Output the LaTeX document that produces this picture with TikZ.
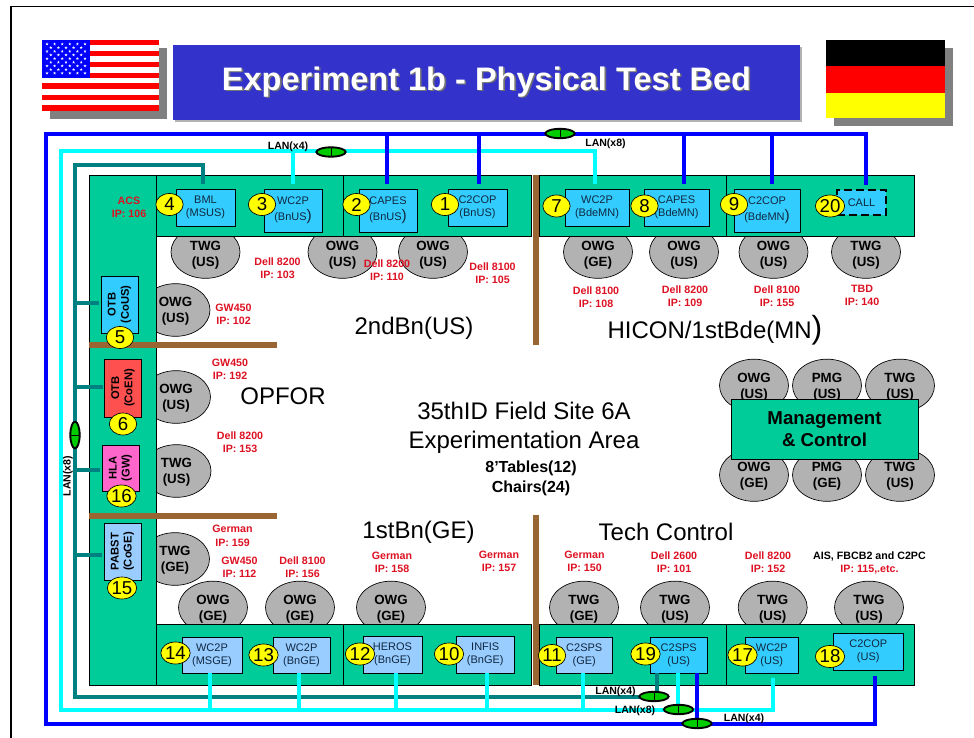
\documentclass[tikz,border=0pt]{standalone}
\usepackage{fontspec}
\setmainfont{Liberation Sans}
\usetikzlibrary{shapes.geometric,calc}
\definecolor{bandgreen}{HTML}{00CC99}
\definecolor{titleblue}{HTML}{3333CC}
\definecolor{boxblue}{HTML}{33CCFF}
\definecolor{boxpale}{HTML}{99CCFF}
\definecolor{boxred}{HTML}{FF5050}
\definecolor{boxpink}{HTML}{FF66CC}
\definecolor{woodbrown}{HTML}{996633}
\definecolor{labred}{HTML}{DD1122}
\definecolor{ovalgrey}{HTML}{B2B2B2}
\definecolor{boxink}{HTML}{102840}
\definecolor{lanteal}{HTML}{008080}
\definecolor{lancyan}{HTML}{00FFFF}
\definecolor{lanblue}{HTML}{0000FF}
\definecolor{hubgreen}{HTML}{00CC00}
\definecolor{flagred}{HTML}{FF0000}
\definecolor{flagyellow}{HTML}{FFFF00}
\newcommand\pbox[7]{\node[#2,minimum width={(#5-#3)*.75pt},minimum height={(#6-#4)*.75pt}] (#1) at ({(#3+#5)/2},{(#4+#6)/2}) {#7};}
\newcommand\rbox[7]{\node[#2,rotate=90,minimum height={(#5-#3)*.75pt},minimum width={(#6-#4)*.75pt}] (#1) at ({(#3+#5)/2},{(#4+#6)/2}) {#7};}
\newcommand\bigpar{{\fontsize{11.5}{11.5}\selectfont )}}
\newcommand\starat[2]{\fill[white,shift={(#1,#2)}] (0,-1.6) -- (.94,1.29) -- (-1.52,-.49) -- (1.52,-.49) -- (-.94,1.29) -- cycle;}
\newcommand\ovtx[3][1pt]{\raisebox{-#1}[7.2pt][2pt]{#2}\\\raisebox{-#1}[7.2pt][2pt]{#3}}
\tikzset{
  band/.style={rectangle,draw=black,line width=.5pt,fill=bandgreen,inner sep=0pt,outer sep=0pt},
  pc/.style={rectangle,draw=black,line width=.6pt,inner sep=0pt,outer sep=0pt,align=center,text=boxink,font=\fontsize{8.25}{9.75}\selectfont},
  pcblue/.style={pc,fill=boxblue},
  pcpale/.style={pc,fill=boxpale},
  pcside/.style={pc,text=black,font=\fontsize{8.4}{9.75}\selectfont\bfseries},
  oval/.style={ellipse,draw=black,line width=.5pt,fill=ovalgrey,inner sep=0pt,outer sep=0pt,minimum width=51.75pt,minimum height=39.5pt,align=center,font=\fontsize{10}{12}\selectfont\bfseries},
  num/.style={ellipse,draw=black,line width=.5pt,fill=flagyellow,inner sep=0pt,outer sep=0pt,minimum width=20.5pt,minimum height=16.5pt,font=\fontsize{14}{14}\selectfont},
  redlab/.style={align=center,inner sep=0pt,text=labred,font=\fontsize{8}{9.75}\selectfont\bfseries},
  room/.style={align=center,inner sep=0pt,font=\fontsize{18}{21.75}\selectfont},
  lantag/.style={inner sep=0pt,font=\fontsize{7.9}{8}\selectfont\bfseries},
  lan/.style={ellipse,draw=black,line width=1.4pt,fill=hubgreen,inner sep=0pt,outer sep=0pt,minimum width=22pt,minimum height=7pt},
  lanv/.style={lan,minimum width=7pt,minimum height=20pt},
  bluecable/.style={draw=lanblue,line width=2.6pt},
  cyancable/.style={draw=lancyan,line width=2.3pt},
  tealcable/.style={draw=lanteal,line width=2.3pt},
  wood/.style={fill=woodbrown,draw=none},
  flagshadow/.style={fill=black!50,draw=none}
}
\begin{document}
\begin{tikzpicture}[x=.75pt,y=-.75pt]
\useasboundingbox (0,0) rectangle (974,738);
% slide frame
\coordinate (frameBL) at (11,738);
\coordinate (frameTL) at (11,6.5);
\coordinate (frameTR) at (974,6.5);
\draw[black,line width=1.4pt] (frameBL) -- (frameTL) -- (frameTR);
% US flag
\fill[flagshadow] (50,48) rectangle (167,119);
\fill[white] (42,40) rectangle (159,111);
\foreach \a/\b in {40/45,51/56,62/67,72.7/77.7,83/89,95/100,105/111}{\fill[flagred] (42,\a) rectangle (159,\b);}
\fill[lanblue] (42,40) rectangle (90,78);
\foreach \r in {0,2,4,6,8}{\foreach \c in {0,...,5}{\starat{47+\c*7.6}{44+\r*3.65}}}
\foreach \r in {1,3,5,7}{\foreach \c in {0,...,4}{\starat{50.8+\c*7.6}{44+\r*3.65}}}
% title
\fill[ovalgrey] (175,47) rectangle (802,122);
\pbox{title}{rectangle,fill=titleblue,inner sep=0pt,font=\fontsize{24.4}{28}\selectfont\bfseries,text=white}{173}{45}{800}{120}{\raisebox{-3pt}{\rlap{\kern1.2pt\raisebox{-1.2pt}{\textcolor{black!55}{Experiment 1b - Physical Test Bed}}}Experiment 1b - Physical Test Bed}}
% German flag
\fill[flagshadow] (834,48) rectangle (953,126);
\fill[black] (826,40) rectangle (945,66);
\fill[flagred] (826,66) rectangle (945,93);
\fill[flagyellow] (826,93) rectangle (945,118);
% ovals that the tables overlap
\node[oval] (ovT1) at (205.5,252) {\ovtx[2.1pt]{TWG}{(US)}};
\node[oval] (ovT2) at (342.5,252) {\ovtx[2.1pt]{OWG}{(US)}};
\node[oval] (ovT3) at (433,252) {\ovtx[2.1pt]{OWG}{(US)}};
\node[oval] (ovT4) at (598,252) {\ovtx[2.1pt]{OWG}{(GE)}};
\node[oval] (ovT5) at (684,252) {\ovtx[2.1pt]{OWG}{(US)}};
\node[oval] (ovT6) at (773.5,252) {\ovtx[2.1pt]{OWG}{(US)}};
\node[oval] (ovT7) at (866,252) {\ovtx[2.1pt]{TWG}{(US)}};
\node[oval] (ovL1) at (175.5,310) {\ovtx{OWG}{(US)}};
\node[oval] (ovL2) at (176,397) {\ovtx{OWG}{(US)}};
\node[oval] (ovL3) at (176.5,471) {\ovtx{TWG}{(US)}};
\node[oval] (ovL4) at (175,559) {\ovtx{TWG}{(GE)}};
\node[oval] (ovB1) at (213,607.5) {\ovtx{OWG}{(GE)}};
\node[oval] (ovB2) at (300,607.5) {\ovtx{OWG}{(GE)}};
\node[oval] (ovB3) at (391,607.5) {\ovtx{OWG}{(GE)}};
\node[oval] (ovB4) at (584,607.5) {\ovtx{TWG}{(GE)}};
\node[oval] (ovB5) at (675,607.5) {\ovtx{TWG}{(US)}};
\node[oval] (ovB6) at (772.7,607.5) {\ovtx{TWG}{(US)}};
\node[oval] (ovB7) at (869,607.5) {\ovtx{TWG}{(US)}};
\node[oval] (ovM1) at (754,385.5) {\ovtx[1.35pt]{OWG}{(US)}};
\node[oval] (ovM2) at (827,385.5) {\ovtx[1.35pt]{PMG}{(US)}};
\node[oval] (ovM3) at (900,385.5) {\ovtx[1.35pt]{TWG}{(US)}};
\node[oval] (ovM4) at (754,475) {\ovtx{OWG}{(GE)}};
\node[oval] (ovM5) at (827,475) {\ovtx{PMG}{(GE)}};
\node[oval] (ovM6) at (900,475) {\ovtx{TWG}{(US)}};
\pbox{mgmt}{band,align=center,font=\fontsize{14}{17}\selectfont\bfseries}{731}{399}{918}{459}{Management\\\& Control}
% tables
\pbox{bandL}{band}{89}{175}{156}{685}{}
\pbox{bandT1}{band}{156}{175}{343}{236}{}
\pbox{bandT2}{band}{343}{175}{531}{236}{}
\pbox{bandT3}{band}{539}{175}{726}{236}{}
\pbox{bandT4}{band}{726}{175}{914}{236}{}
\pbox{bandB1}{band}{156}{624}{343}{685}{}
\pbox{bandB2}{band}{343}{624}{531}{685}{}
\pbox{bandB3}{band}{539}{624}{726}{685}{}
\pbox{bandB4}{band}{726}{624}{914}{685}{}
% walls
\fill[wood] (89,342) rectangle (277,348);
\fill[wood] (89,513) rectangle (277,519);
\fill[wood] (533,175) rectangle (539,345);
\fill[wood] (533,515) rectangle (539,685);
% computers
\pbox{bml}{pcblue}{176}{189}{235}{226}{BML\\(MSUS)}
\pbox{wcUS}{pcblue}{264}{189}{322}{232}{WC2P\\[2pt](BnUS\bigpar}
\pbox{capesUS}{pcblue}{359}{189}{417}{232}{CAPES\\[2pt](BnUS\bigpar}
\pbox{copUS}{pcblue}{448}{189}{507}{226}{C2COP\\(BnUS)}
\pbox{wcMN}{pcblue}{565}{189}{629}{226}{WC2P\\(BdeMN)}
\pbox{capesMN}{pcblue}{644}{189}{709}{226}{CAPES\\(BdeMN)}
\pbox{copMN}{pcblue}{734}{189}{800}{232}{C2COP\\[2pt](BdeMN\bigpar}
\pbox{callbox}{pcblue,draw=black,line width=1.5pt,dash pattern=on 6pt off 3pt}{837}{190}{886}{215}{CALL}
\rbox{otbUS}{pcside,fill=boxblue}{101}{276}{138}{333}{OTB\\(CoUS)}
\rbox{otbEN}{pcside,fill=boxred}{104.5}{359}{141.5}{417}{OTB\\(CoEN)}
\rbox{hla}{pcside,fill=boxpink}{102}{445}{139}{491}{HLA\\(GW)}
\rbox{pabst}{pcside,fill=boxpale}{104}{523}{141}{580}{PABST\\(CoGE)}
\pbox{wcMS}{pcpale}{182}{637}{242}{673}{WC2P\\(MSGE)}
\pbox{wcGE}{pcpale}{273}{637}{330}{673}{WC2P\\(BnGE)}
\pbox{heros}{pcpale}{363}{636}{422}{673}{HEROS\\(BnGE)}
\pbox{infis}{pcpale}{456.5}{636}{514}{673}{INFIS\\(BnGE)}
\pbox{spsGE}{pcpale}{556}{637}{612.5}{673}{C2SPS\\(GE)}
\pbox{spsUS}{pcblue}{650.5}{637}{707}{673}{C2SPS\\(US)}
\pbox{wcTC}{pcblue}{745.5}{637}{798}{673}{WC2P\\(US)}
\pbox{copTC}{pcblue}{833.5}{633}{903}{670}{C2COP\\(US)}
% teal LAN
\coordinate (tealTR) at (203,165);
\coordinate (tealTL) at (73,165);
\coordinate (tealLL) at (75,165);
\coordinate (tealBL) at (75,697);
\coordinate (tealBR) at (657,697);
\draw[tealcable,shorten >=3.75pt] (tealTL) -- (tealTR) -- (tealTR |- bml.north);
\draw[tealcable] (tealLL) -- (tealBL) -- (tealBR) -- (tealBR |- spsUS.south);
\foreach \y/\b in {303/otbUS,387/otbEN,470/hla,555/pabst}{
  \coordinate (tap) at (75,\y);
  \draw[tealcable,shorten >=1.5pt] (tap) -- (tap -| \b.north);
}
% cyan LAN
\coordinate (cyTR) at (595,151);
\coordinate (cyTL) at (61,151);
\coordinate (cyBL) at (61,710);
\coordinate (cyBR) at (773,710);
\draw[cyancable,shorten >=3.75pt,shorten <=3.75pt] (wcMN.north -| cyTR) -- (cyTR) -- (cyTL) -- (cyBL) -- (cyBR) -- (cyBR |- wcTC.south);
\coordinate (tap) at (293,151);
\draw[cyancable,shorten >=3.75pt] (tap) -- (tap |- wcUS.north);
\foreach \x/\b in {210/wcMS,299/wcGE,396/heros,487/infis,583/spsGE,678/spsUS}{
  \coordinate (tap) at (\x,710);
  \draw[cyancable] (tap) -- (tap |- \b.south);
}
% blue LAN
\coordinate (blTR) at (868,134);
\coordinate (blTL) at (46,134);
\coordinate (blBL) at (46,724);
\coordinate (blBR) at (875,724);
\draw[bluecable,shorten >=4.5pt] (blTR) -- (blTL) -- (blBL) -- (blBR) -- (blBR |- copTC.south);
\foreach \x/\b in {387/capesUS,479/copUS,684/capesMN,772/copMN,866/callbox}{
  \coordinate (tap) at (\x,134);
  \draw[bluecable,shorten >=3.75pt] (tap) -- (tap |- \b.north);
}
\coordinate (tap) at (697,724);
\draw[bluecable] (tap) -- (tap |- spsUS.south);
% LAN hubs
\node[lan] (hubC) at (331,152) {};
\node[lan] (hubB) at (560,133.5) {};
\node[lanv] (hubT) at (75,435) {};
\node[lan] (hubBT) at (654,696.5) {};
\node[lan] (hubBC) at (678.5,709.5) {};
\node[lan] (hubBB) at (697,723.5) {};
\foreach \h in {hubC,hubB,hubBT,hubBC,hubBB}{\draw[black,line width=.4pt] (\h.north) -- (\h.south);}
\draw[black,line width=.4pt] (hubT.west) -- (hubT.east);
\node[lantag] (lanA) at (288,147) {LAN(x4)};
\node[lantag] (lanB) at (605.5,144) {LAN(x8)};
\node[lantag,rotate=90] (lanC) at (68,476) {LAN(x8)};
\node[lantag] (lanD) at (615.5,692) {LAN(x4)};
\node[lantag] (lanE) at (635,711) {LAN(x8)};
\node[lantag] (lanF) at (744,719) {LAN(x4)};
% seat numbers
\node[num] (n4) at (169.5,204.5) {4};
\node[num] (n3) at (262,204.5) {3};
\node[num] (n2) at (356.5,204.5) {2};
\node[num] (n1) at (445,204.5) {1};
\node[num] (n7) at (556.5,206) {7};
\node[num] (n8) at (644.5,206) {8};
\node[num] (n9) at (734,204.5) {9};
\node[num] (n20) at (830,206) {20};
\node[num] (n5) at (120,337.5) {5};
\node[num] (n6) at (123,424) {6};
\node[num] (n16) at (121.5,496) {16};
\node[num] (n15) at (122,588) {15};
\node[num] (n14) at (175.5,653) {14};
\node[num] (n13) at (263.5,655) {13};
\node[num] (n12) at (360,654) {12};
\node[num] (n10) at (449,654) {10};
\node[num] (n11) at (552,655.5) {11};
\node[num] (n19) at (645.5,654) {19};
\node[num] (n17) at (742.5,655) {17};
\node[num] (n18) at (830,656.5) {18};
% machine labels
\node[redlab] (l1) at (129,207.5) {ACS\\IP: 106};
\node[redlab] (l2) at (277.5,268.5) {Dell 8200\\IP: 103};
\node[redlab] (l3) at (387,270.5) {Dell 8200\\IP: 110};
\node[redlab] (l4) at (492.5,273) {Dell 8100\\IP: 105};
\node[redlab] (l5) at (233.5,314.5) {GW450\\IP: 102};
\node[redlab] (l6) at (596,297.5) {Dell 8100\\IP: 108};
\node[redlab] (l7) at (685,296.5) {Dell 8200\\IP: 109};
\node[redlab] (l8) at (777,296.5) {Dell 8100\\IP: 155};
\node[redlab] (l9) at (862,295.5) {TBD\\IP: 140};
\node[redlab] (l10) at (230,369.5) {GW450\\IP: 192};
\node[redlab] (l11) at (240,442.5) {Dell 8200\\IP: 153};
\node[redlab] (l12) at (232.5,536) {German\\[.7pt]IP: 159};
\node[redlab] (l13) at (239.5,567.5) {GW450\\IP: 112};
\node[redlab] (l14) at (302.5,567.5) {Dell 8100\\IP: 156};
\node[redlab] (l15) at (392,562.5) {German\\IP: 158};
\node[redlab] (l16) at (499,561.5) {German\\IP: 157};
\node[redlab] (l17) at (584.5,561.5) {German\\IP: 150};
\node[redlab] (l18) at (674,562.5) {Dell 2600\\IP: 101};
\node[redlab] (l19) at (768,562.5) {Dell 8200\\IP: 152};
\node[redlab] (l20) at (869.5,562.5) {\textcolor{black}{AIS, FBCB2 and C2PC}\\IP: 115,.etc.};
% area labels
\node[room] (r1) at (414,328) {2ndBn(US)};
\node[room] (r2) at (715,330) {HICON/1stBde(MN{\fontsize{24}{24}\selectfont )}};
\node[room] (r3) at (283,396) {OPFOR};
\node[room] (r4) at (524,427.5) {35thID Field Site 6A\\Experimentation Area};
\node[align=center,inner sep=0pt,font=\fontsize{12}{15}\selectfont\bfseries] (r5) at (531,478) {8’Tables(12)\\Chairs(24)};
\node[room] (r6) at (418.5,532.5) {1stBn(GE)};
\node[room] (r7) at (666,532) {Tech Control};
\end{tikzpicture}
\end{document}
